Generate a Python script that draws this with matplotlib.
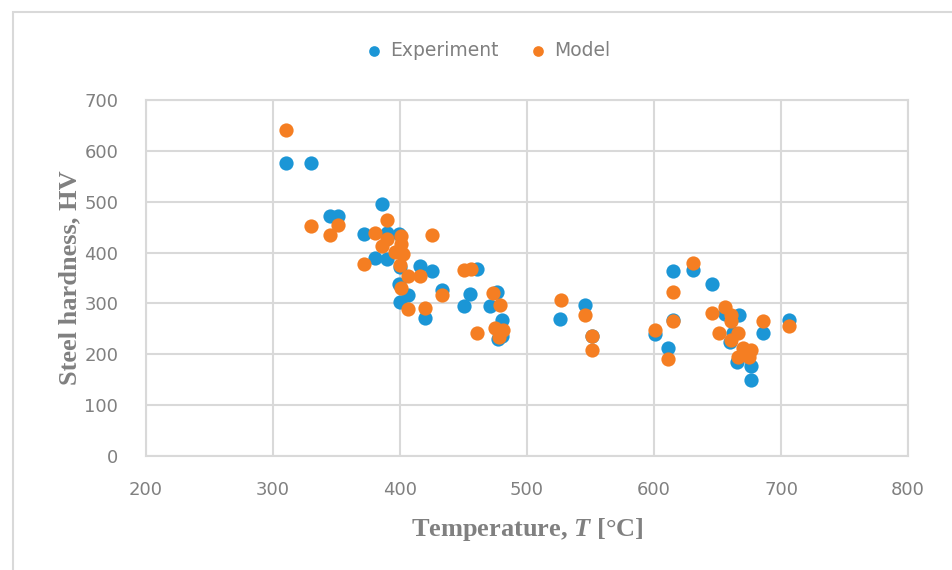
import matplotlib
matplotlib.use("Agg")
import matplotlib.pyplot as plt
from matplotlib.patches import Rectangle

# Experiment series (temperature in C, hardness in HV)
exp_temp = [310, 330, 345, 351, 372, 386, 390, 380, 390, 399, 400, 416, 425,
            399, 406, 400, 420, 433, 450, 455, 461, 471, 476, 480, 477, 480,
            526, 546, 551, 601, 611, 615, 615, 631, 646, 656, 667, 662, 660,
            665, 676, 676, 686, 706]
exp_hv = [576, 576, 472, 472, 437, 496, 439, 389, 387, 436, 371, 374, 364,
          338, 317, 302, 271, 327, 294, 318, 368, 294, 322, 268, 230, 236,
          269, 296, 235, 239, 212, 363, 268, 366, 339, 280, 277, 241, 225,
          185, 177, 150, 241, 267]

# Model series
mod_temp = [310, 330, 345, 351, 372, 380, 386, 390, 390, 401, 401, 396, 402,
            400, 406, 416, 401, 406, 420, 425, 433, 450, 456, 461, 473, 479,
            475, 481, 478, 527, 546, 551, 551, 601, 611, 615, 615, 631, 646,
            651, 656, 661, 661, 661, 666, 666, 670, 676, 675, 686, 706]
mod_hv = [641, 452, 435, 455, 378, 438, 412, 465, 427, 432, 416, 401, 397,
          376, 354, 354, 331, 290, 291, 435, 317, 365, 367, 241, 320, 297,
          252, 248, 234, 307, 277, 235, 208, 248, 191, 322, 266, 379, 281,
          241, 292, 277, 265, 229, 241, 195, 212, 208, 194, 265, 256]

x_ticks = [200, 300, 400, 500, 600, 700, 800]
y_ticks = [0, 100, 200, 300, 400, 500, 600, 700]

blue = '#1b96d6'
orange = '#f57e22'
grid_col = '#d9d9d9'
text_col = '#808080'

plt.rcParams['mathtext.fontset'] = 'custom'
plt.rcParams['mathtext.it'] = 'Liberation Serif:italic:bold'
plt.rcParams['mathtext.rm'] = 'Liberation Serif:bold'

fig = plt.figure(figsize=(9.52, 5.70), dpi=100)
ax = fig.add_axes([146 / 952, 1 - 456 / 570, (908 - 146) / 952, (456 - 100) / 570])

# outer chart frame
fig.patches.append(Rectangle((13 / 952, -0.1), 1.2, 1.1 - 12 / 570, transform=fig.transFigure,
                             fill=False, edgecolor=grid_col, linewidth=1.5))

ax.scatter(exp_temp, exp_hv, s=105, color=blue, label='Experiment', zorder=3, linewidths=0)
ax.scatter(mod_temp, mod_hv, s=105, color=orange, label='Model', zorder=4, linewidths=0)

ax.set_xlim(200, 800)
ax.set_ylim(0, 700)
ax.set_xticks(x_ticks)
ax.set_yticks(y_ticks)
ax.grid(True, color=grid_col, linewidth=1.5, zorder=0)
ax.set_axisbelow(True)
for sp in ax.spines.values():
    sp.set_color(grid_col)
    sp.set_linewidth(1.5)
ax.tick_params(length=0, labelsize=13, labelcolor=text_col)
ax.tick_params(axis='x', pad=18)
ax.tick_params(axis='y', pad=20)

ax.set_xlabel(r'Temperature, $T$ [°C]', fontsize=19, color=text_col,
              family='Liberation Serif', weight='bold', labelpad=12)
ax.set_ylabel('Steel hardness, HV', fontsize=19, color=text_col,
              family='Liberation Serif', weight='bold', labelpad=2)

fig.legend(loc='center', bbox_to_anchor=(483 / 952, 1 - 50 / 570), ncol=2, frameon=False,
           fontsize=13.5, labelcolor=text_col, handletextpad=-0.15, columnspacing=1.1,
           markerscale=0.75)

fig.savefig('out.png', dpi=100)
